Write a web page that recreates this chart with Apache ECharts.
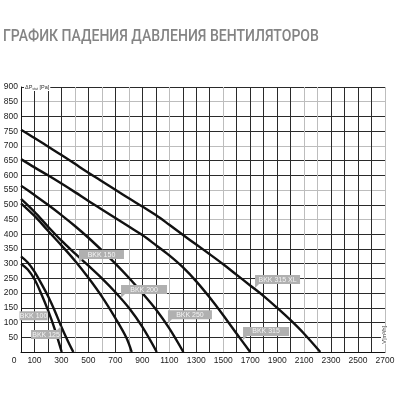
<!DOCTYPE html>
<html><head><meta charset="utf-8">
<script src="https://cdn.jsdelivr.net/npm/echarts/dist/echarts.min.js"></script>
<style>html,body{margin:0;padding:0;background:#fff}#c{width:400px;height:400px}</style>
</head><body><div id="c"></div>
<script>
// ---- data (flow m3/h, static pressure Pa) ----
const titleText = 'ГРАФИК ПАДЕНИЯ ДАВЛЕНИЯ ВЕНТИЛЯТОРОВ';
const seriesNames = ['BKK 100','BKK 125','BKK 150','BKK 200','BKK 250','BKK 315','BKK 315 XL'];
const bkk100 = [[0,300],[50,280],[100,247],[150,198],[200,142],[250,78],[302,0]];
const bkk125 = [[0,325],[50,304],[100,273],[150,233],[200,190],[250,140],[300,85],[350,35],[388,0]];
const bkk150 = [[0,505],[100,462],[200,412],[300,362],[400,310],[500,252],[600,188],[700,115],[780,50],[821,0]];
const bkk200 = [[0,520],[100,476],[200,426],[300,378],[400,335],[500,293],[600,250],[700,203],[800,150],[900,85],[1007,0]];
const bkk250 = [[0,565],[100,533],[200,500],[300,465],[400,428],[500,388],[600,345],[700,300],[800,252],[900,200],[1000,145],[1100,80],[1204,0]];
const bkk315 = [[0,655],[100,627],[200,600],[300,572],[400,543],[500,513],[600,484],[700,455],[800,426],[900,397],[1000,363],[1100,328],[1200,288],[1300,240],[1400,185],[1500,125],[1600,62],[1700,0]];
const bkk315xl = [[0,755],[100,727],[200,698],[300,669],[400,639],[500,609],[600,580],[700,551],[800,522],[900,494],[1000,465],[1100,432],[1200,398],[1300,365],[1400,332],[1500,298],[1600,262],[1700,226],[1800,190],[1900,150],[2000,108],[2100,62],[2220,0]];
const xTicks = [0,100,300,500,700,900,1100,1300,1500,1700,1900,2100,2300,2500,2700];
const yTicks = [50,100,150,200,250,300,350,400,450,500,550,600,650,700,750,800,850,900];

const B = '#2a2a2a', G = '#bdbdbd';
const vColors = [B,B,B,B,G,B,G,B,G,B,B,G,B,B,B,G,B,B,B,B,B,G,G,B,B,B,B,G];
const hColors = [B,B,B,B,B,B,B,B,B,G,B,G,B,B,G,B,B,G,B];

function calloutBL(w){ // tail at bottom-left
  return {symbol:'path://M0 0 H'+w+' V9 H4 L0 13 Z', symbolSize:[w,13], symbolOffset:[w/2,-6.5], labelOffset:[0,-2]};
}
function calloutTR(w){ // tail at top-right
  return {symbol:'path://M0 4 H'+(w-4)+' L'+w+' 0 V13 H0 Z', symbolSize:[w,13], symbolOffset:[-w/2,6.5], labelOffset:[0,2]};
}
function boxOnly(w){
  return {symbol:'rect', symbolSize:[w,9], symbolOffset:[0,0], labelOffset:[0,0]};
}
function mk(name, coord, shape){
  return {
    silent:true, animation:false,
    symbol:shape.symbol, symbolSize:shape.symbolSize, symbolOffset:shape.symbolOffset,
    itemStyle:{color:'#b0b0b0'},
    label:{show:true, position:'inside', offset:shape.labelOffset, formatter:name, color:'#f4f4f4', fontSize:7, fontFamily:'Liberation Sans'},
    data:[{coord:coord}]
  };
}
const dataSets = [bkk100,bkk125,bkk150,bkk200,bkk250,bkk315,bkk315xl];
const markers = [
  mk('BKK 100',[93,123], boxOnly(28)),
  mk('BKK 125',[297,88], calloutTR(30)),
  mk('BKK 150',[430,302], calloutBL(45)),
  mk('BKK 200',[742,183], calloutBL(46)),
  mk('BKK 250',[1090,98], calloutBL(44)),
  mk('BKK 315',[1647,41], calloutBL(46)),
  mk('BKK 315 XL',[1736,217], calloutBL(45))
];

const chart = echarts.init(document.getElementById('c'), null, {renderer:'canvas'});
chart.setOption({
  animation:false,
  backgroundColor:'#fff',
  grid:{left:21, right:15, top:87, bottom:48},
  xAxis:{type:'value', min:0, max:2700, interval:100,
    axisLine:{show:true, lineStyle:{color:'#111', width:1}}, axisTick:{show:false},
    axisLabel:{fontSize:8.5, color:'#222', margin:4, fontFamily:'Liberation Sans', showMaxLabel:true,
      formatter:function(v){ if(v===0) return '{z|0}'; return xTicks.indexOf(v)>=0 ? String(v) : ''; },
      rich:{z:{fontSize:8.5, color:'#222', padding:[0,14,0,0], fontFamily:'Liberation Sans'}}},
    splitLine:{show:true, lineStyle:{color:vColors, width:1}}},
  yAxis:{type:'value', min:0, max:900, interval:50,
    axisLine:{show:true, lineStyle:{color:'#111', width:1}}, axisTick:{show:false},
    axisLabel:{fontSize:8.5, color:'#222', margin:3, fontFamily:'Liberation Sans',
      formatter:function(v){ return yTicks.indexOf(v)>=0 ? String(v) : ''; }},
    splitLine:{show:true, lineStyle:{color:hColors, width:1}}},
  graphic:[
    {type:'text', x:3, y:37, scaleX:0.825, originX:0, originY:0, z:100,
      style:{text:titleText, fill:'#848484', fontSize:17, fontWeight:500, fontFamily:'Roboto', verticalAlign:'middle', align:'left'}},
    {type:'text', left:24, top:84, z:100, style:{text:'ΔP{s|stat} [Pa]', fill:'#333', fontSize:5.5, fontFamily:'Liberation Sans', backgroundColor:'#fff', padding:[0,1,0,1],
      rich:{s:{fontSize:3.5, fill:'#333', verticalAlign:'bottom', padding:[3,0,0,0]}}}},
    {type:'text', left:381, top:326, z:100, rotation:Math.PI/2, style:{text:'V[m³/h]', fill:'#333', fontSize:5.5, fontFamily:'Liberation Sans', backgroundColor:'#fff'}}
  ],
  series: dataSets.map(function(d,i){ return {
    name:seriesNames[i], type:'line', data:d, smooth:0.35, symbol:'none', z:3,
    lineStyle:{color:'#111', width:2.4}, markPoint:markers[i]
  };})
});
</script></body></html>
